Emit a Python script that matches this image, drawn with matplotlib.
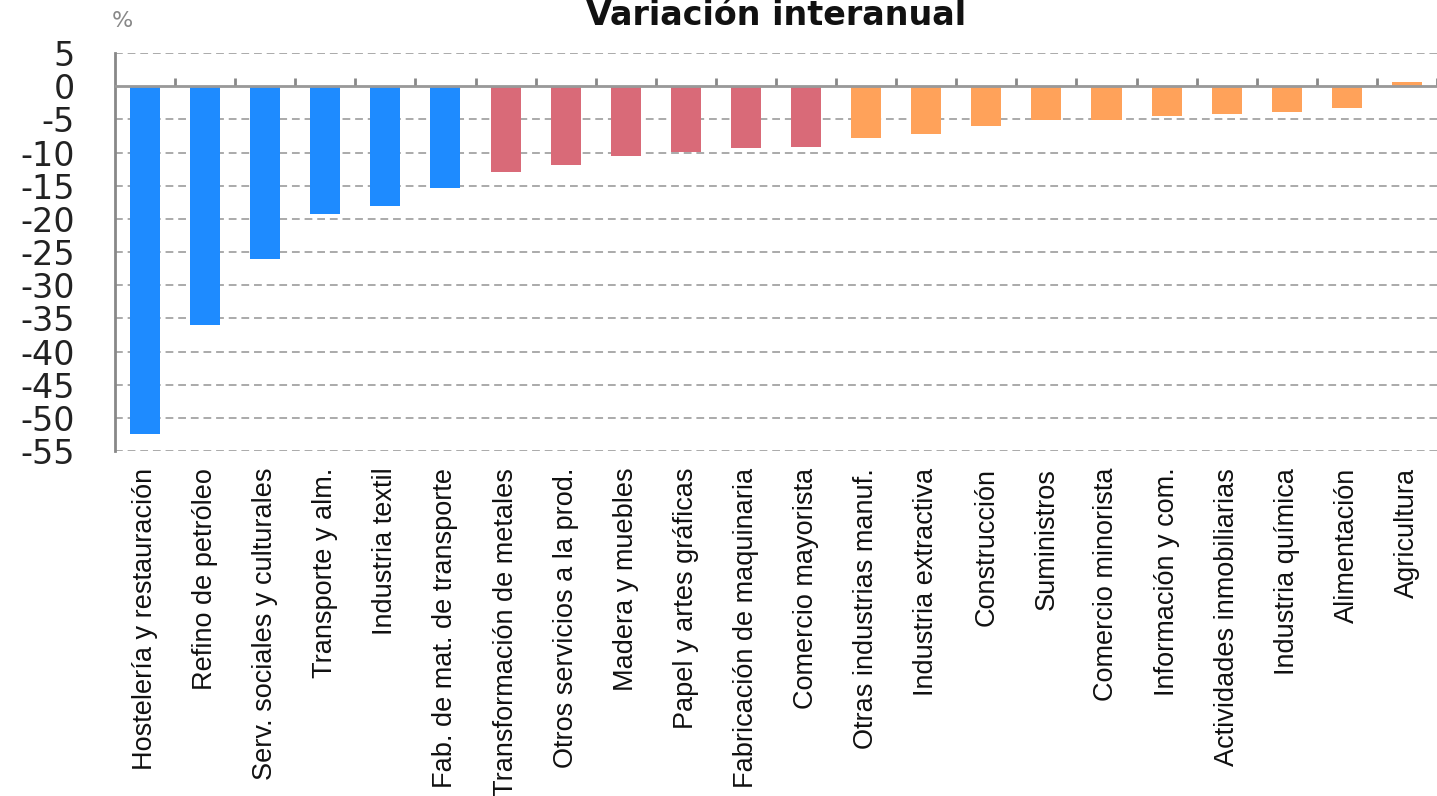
import matplotlib
matplotlib.use("Agg")
import matplotlib.pyplot as plt

categories = [
    "Hostelería y restauración", "Refino de petróleo", "Serv. sociales y culturales",
    "Transporte y alm.", "Industria textil", "Fab. de mat. de transporte",
    "Transformación de metales", "Otros servicios a la prod.", "Madera y muebles",
    "Papel y artes gráficas", "Fabricación de maquinaria", "Comercio mayorista",
    "Otras industrias manuf.", "Industria extractiva", "Construcción", "Suministros",
    "Comercio minorista", "Información y com.", "Actividades inmobiliarias",
    "Industria química", "Alimentación", "Agricultura",
]
values = [-52.5, -36.0, -26.0, -19.2, -18.0, -15.3,
          -12.95, -11.9, -10.6, -9.9, -9.3, -9.15,
          -7.8, -7.15, -6.0, -5.1, -5.1, -4.5, -4.2, -3.85, -3.3, 0.6]
groups = ["a"] * 6 + ["b"] * 6 + ["c"] * 10
group_colors = {"a": "#1E8BFF", "b": "#D96A78", "c": "#FFA25A"}
yticks = list(range(-55, 10, 5))

fig = plt.figure(figsize=(14.37, 7.96), dpi=100)
ax = fig.add_axes([0.0800, 0.4334, 0.9200, 0.5000])

x = list(range(len(categories)))
ax.bar(x, values, width=0.5, color=[group_colors[g] for g in groups], zorder=3)

ax.set_xlim(-0.5, len(categories) - 0.5)
ax.set_ylim(-55, 5)
ax.set_yticks(yticks)
ax.set_yticklabels([str(v) for v in yticks], fontsize=24, family=["DejaVu Sans"], color="#222222")
ax.tick_params(axis="y", length=0, pad=29)

ax.set_xticks(x)
ax.set_xticklabels(categories, rotation=90, ha="center", va="top",
                   fontsize=19.5, family=["Liberation Sans", "DejaVu Sans"], color="#111111")
ax.tick_params(axis="x", length=0, pad=12)

for s in ["top", "right", "bottom"]:
    ax.spines[s].set_visible(False)
ax.spines["left"].set_color("#888888")
ax.spines["left"].set_linewidth(2)

for v in yticks:
    if v != 0:
        ax.axhline(v, color="#AAAAAA", lw=1.4, ls=(0, (4, 2.5)), zorder=1)
ax.axhline(0, color="#999999", lw=2, zorder=4)

sec = ax.secondary_xaxis(55 / 60)
sec.set_xticks([i + 0.5 for i in range(len(categories))])
sec.set_xticklabels([])
sec.tick_params(axis="x", direction="out", length=6, width=2, color="#888888")
sec.spines["bottom"].set_visible(False)

fig.text(0.540, 1 - 25 / 796, "Variación interanual", ha="center", va="baseline",
         fontsize=24, fontweight="bold", family=["DejaVu Sans"], color="#111111")
fig.text(112 / 1437, 1 - 21 / 796, "%", ha="left", va="center", fontsize=16,
         family=["DejaVu Sans"], color="#888888")

fig.savefig("out.png", dpi=100)
